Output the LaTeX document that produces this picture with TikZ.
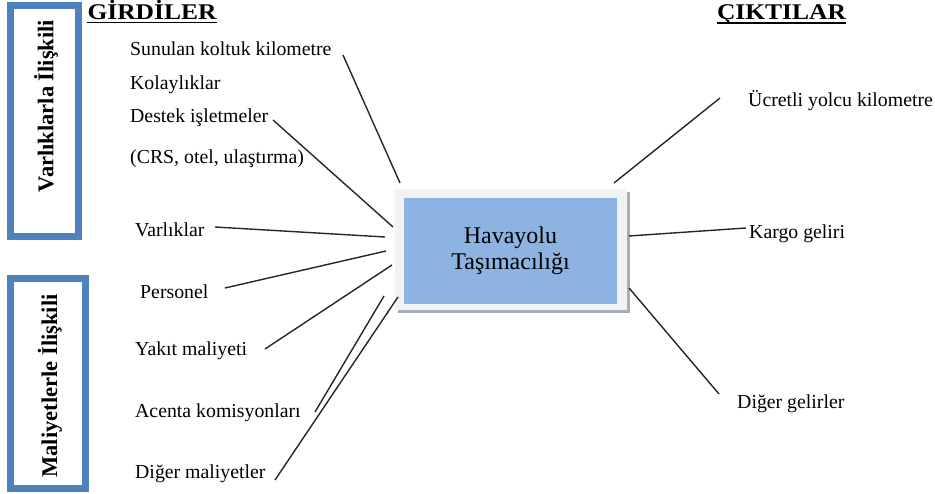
\documentclass[tikz,border=0pt]{standalone}
\usepackage{fontspec}
\setmainfont{Liberation Serif}
\usetikzlibrary{calc}
\definecolor{frameblue}{HTML}{4F81BD}
\definecolor{coreblue}{HTML}{8DB3E2}
\definecolor{paneface}{HTML}{F2F2F2}
\definecolor{paneshade}{HTML}{A6ADBB}
\tikzset{
  lbl/.style={anchor=west, inner sep=0pt, font=\fontsize{19.8}{22}\selectfont},
  head/.style={anchor=base, inner sep=0pt, font=\fontsize{25.5}{28}\selectfont\bfseries},
  headrule/.style={line width=1.6pt},
  sidebox/.style={draw=frameblue, line width=7pt, fill=white},
  sidetext/.style={rotate=90, inner sep=0pt, font=\fontsize{22.5}{26}\selectfont\bfseries},
  spoke/.style={line width=1.4pt, black!85},
}
\newcommand{\headtext}[1]{\scalebox{1}[0.88]{#1}}
\begin{document}
\begin{tikzpicture}[x=1pt,y=-1pt]
\useasboundingbox (0,0) rectangle (935,494);

% side frames
\node[sidebox, minimum width=68pt, minimum height=231pt] (assetbox) at (44.5,121.5) {};
\node[sidetext] (assettxt) at (46,106) {Varlıklarla İlişkili};
\node[sidebox, minimum width=75pt, minimum height=210pt] (costbox) at (48,383.5) {};
\node[sidetext] (costtxt) at (50,386) {Maliyetlerle İlişkili};

% headings with rules underneath
\node[head] (inputs) at (152,19.5) {\headtext{GİRDİLER}};
\node[head] (outputs) at (781.5,19.5) {\headtext{ÇIKTILAR}};
\draw[headrule] ($(inputs.base west)+(0,3)$) -- ($(inputs.base east)+(0,3)$);
\draw[headrule] ($(outputs.base west)+(0,3.5)$) -- ($(outputs.base east)+(0,3.5)$);

% central box with shadow and light frame
\fill[paneshade] (398,192) rectangle (630,313);
\node[fill=paneface, minimum width=232pt, minimum height=121pt, inner sep=0pt] (pane) at (511,249.5) {};
\node[fill=coreblue, minimum width=213pt, minimum height=106pt, inner sep=0pt, align=center,
      font=\fontsize{24}{26}\selectfont] (core) at (510.5,251) {Havayolu\\Taşımacılığı};

% input labels
\node[lbl] (seat) at (130,49) {Sunulan koltuk kilometre};
\node[lbl] (amen) at (130,85) {Kolaylıklar};
\node[lbl] (supp) at (130,118) {Destek işletmeler};
\node[lbl] (crs)  at (130,159) {(CRS, otel, ulaştırma)};
\node[lbl] (asset) at (135,230) {Varlıklar};
\node[lbl] (staff) at (140,292) {Personel};
\node[lbl] (fuel) at (135,351) {Yakıt maliyeti};
\node[lbl] (agent) at (135,413) {Acenta komisyonları};
\node[lbl] (other) at (135,474) {Diğer maliyetler};

% output labels
\node[lbl] (rpk) at (748,101) {Ücretli yolcu kilometre};
\node[lbl] (cargo) at (749,234) {Kargo geliri};
\node[lbl] (oinc) at (737,404) {Diğer gelirler};

% spoke end points
\coordinate (s1a) at (343,55);  \coordinate (s1b) at (400,183);
\coordinate (s2a) at (273,120); \coordinate (s2b) at (393,227);
\coordinate (s3a) at (215,227); \coordinate (s3b) at (385,237);
\coordinate (s4a) at (225,288); \coordinate (s4b) at (386,251);
\coordinate (s5a) at (265,349); \coordinate (s5b) at (392,265);
\coordinate (s6a) at (315,412); \coordinate (s6b) at (384,296);
\coordinate (s7a) at (275,480); \coordinate (s7b) at (398,297);
\coordinate (o1a) at (614,183); \coordinate (o1b) at (720,98);
\coordinate (o2a) at (629,236); \coordinate (o2b) at (746,228);
\coordinate (o3a) at (629,288); \coordinate (o3b) at (719,394);

\foreach \p in {s1,s2,s3,s4,s5,s6,s7,o1,o2,o3}
  \draw[spoke] (\p a) -- (\p b);
\end{tikzpicture}
\end{document}
